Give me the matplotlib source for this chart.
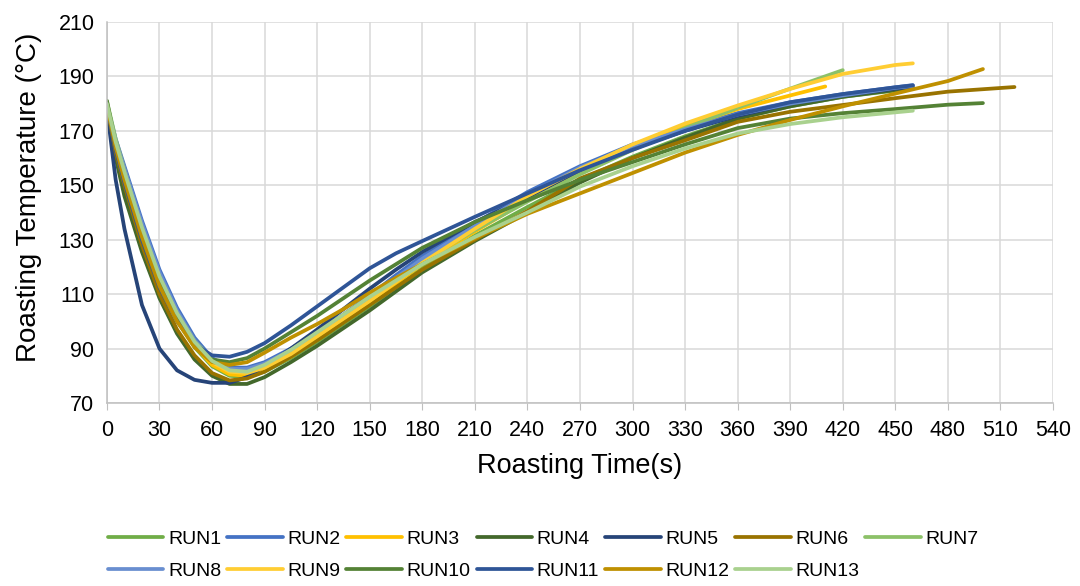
import matplotlib
matplotlib.use("Agg")
import matplotlib.pyplot as plt

plt.rcParams['font.family'] = ['Liberation Sans', 'DejaVu Sans']

# common sampling times (s); each run is cut at its own end time
time_grid = [0, 5, 10, 20, 30, 40, 50, 60, 70, 80, 90, 105, 120, 135, 150, 165,
             180, 210, 240, 270, 300, 330, 360, 390, 420, 450, 480]

run_names = ["RUN1", "RUN2", "RUN3", "RUN4", "RUN5", "RUN6", "RUN7",
             "RUN8", "RUN9", "RUN10", "RUN11", "RUN12", "RUN13"]
end_times = [460, 460, 410, 460, 460, 518, 420, 460, 460, 500, 460, 500, 460]
run_colors = ["#70AD47", "#4472C4", "#FFC000", "#43682B", "#264478", "#997300", "#8CC168",
              "#698ED0", "#FFCD33", "#548235", "#2F5597", "#BF9000", "#A9D18E"]

run1 = [180, 164, 152.5, 132, 114, 100.5, 90.5, 83.5, 80, 79.5, 81.5, 86.5, 92.5, 99, 105.5,
        112.5, 119.5, 131.5, 142, 152, 160.5, 168, 174.5, 179, 182.5, 184.8, 185.5]
run2 = [180, 167, 157, 137, 119, 105, 94, 86.5, 83, 83, 85, 90, 96, 102.5, 109.5,
        117, 124, 136, 147.5, 157, 165, 171, 176.5, 180.5, 183.5, 186, 186.8]
run3 = [180, 165, 154, 133, 115, 101.5, 91, 84, 80.5, 80, 82, 87, 93.5, 100, 107,
        114, 121, 133, 144.5, 155, 164, 171.5, 178, 183, 186.3]
run4 = [180, 160, 146, 125.5, 108.5, 95.5, 86, 80, 77, 77, 79.5, 85, 91, 97.5, 104,
        111, 118, 129.5, 140, 151, 160, 167.5, 174.5, 179, 182.5, 185, 185.8]
run5 = [178, 152, 134, 106, 90, 82, 78.5, 77.4, 77.4, 79.5, 83.5, 90, 97, 104.5, 112,
        119, 125.5, 136.5, 145.5, 155.5, 163.5, 170, 175.5, 180, 183, 185.5, 186.2]
run6 = [179, 162, 150, 128, 110, 97, 87.5, 81, 78.3, 79, 81.5, 87, 93, 99.5, 106,
        112.5, 119, 130, 140.5, 152.5, 160, 166.5, 173.3, 177, 179.5, 182, 184.4, 186.1]
run7 = [181, 167, 156, 135, 117, 103.5, 93, 86, 82.5, 82, 84, 89, 95, 101.5, 108,
        115, 122, 133.5, 144, 154, 163, 171, 178.5, 185.5, 192.3]
run8 = [179, 166, 156, 136, 118, 104, 93, 85.5, 82.5, 82.5, 84.5, 89.5, 95.5, 102, 109,
        116, 123, 135, 146.5, 156.5, 164.5, 170.5, 176, 180, 183, 185.8, 186.5]
run9 = [179, 165, 154, 133.5, 116, 102.5, 92, 85, 81.5, 81, 83, 88, 94.5, 101, 107.5,
        114.5, 121.5, 134, 146, 156, 165, 172.7, 179.3, 185.4, 190.9, 194.2, 194.8]
run10 = [181, 165, 153, 132, 114, 101, 91.5, 86, 85, 86.5, 90, 96, 102, 108.5, 115,
         121, 127, 136.5, 144.5, 152, 158.5, 165, 171, 174.5, 176.5, 178, 179.6, 180.2]
run11 = [179, 163, 151, 130, 112.5, 100, 91.5, 87.5, 87, 88.8, 92, 98.5, 105.5, 112.5, 119.5,
         125, 129.5, 138.4, 147, 155.5, 163, 170, 176, 180.5, 183.5, 186, 186.7]
run12 = [179, 164, 152, 131, 113, 100, 90.5, 85, 84, 85, 88.5, 94, 99, 104.5, 110.5,
         116, 121, 130.5, 139.5, 147, 154.5, 162, 168.5, 174, 179, 183.7, 188.3, 192.7]
run13 = [180, 166, 155, 134.5, 116.5, 103, 92.5, 85.5, 82, 81.5, 84, 89.5, 96, 102.5, 109,
         115, 121, 131, 140, 149.5, 157, 163.5, 169, 172.5, 175, 176.8, 177.4]

runs = [run1, run2, run3, run4, run5, run6, run7, run8, run9, run10, run11, run12, run13]

x_ticks = list(range(0, 541, 30))
y_ticks = list(range(70, 211, 20))

fig = plt.figure(figsize=(10.8, 5.86), dpi=100)
ax = fig.add_axes([0.099, 0.3123, 0.876, 0.6502])

lines = {}
for name, temps, t_end, color in zip(run_names, runs, end_times, run_colors):
    t = [g for g in time_grid if g < t_end] + [t_end]
    lines[name], = ax.plot(t, temps, color=color, lw=2.7, label=name,
                           solid_capstyle='round', solid_joinstyle='round')

ax.set_xlim(0, 540)
ax.set_ylim(70, 210)
ax.set_xticks(x_ticks)
ax.set_yticks(y_ticks)
ax.grid(True, color='#D9D9D9', lw=1.1)
ax.set_axisbelow(True)
for side in ['top', 'right']:
    ax.spines[side].set_visible(False)
for side in ['left', 'bottom']:
    ax.spines[side].set_color('#BFBFBF')
    ax.spines[side].set_linewidth(1.1)
ax.tick_params(axis='y', length=0, labelsize=15.5, pad=9)
ax.tick_params(axis='x', length=5, color='#BFBFBF', labelsize=15.5, pad=7)

ax.set_xlabel("Roasting Time(s)", fontsize=19.5, labelpad=9)
ax.set_ylabel("Roasting Temperature (°C)", fontsize=20)
ax.yaxis.set_label_coords(-0.069, 0.54)

# legend filled row by row like the original (7 per row)
order = ["RUN1", "RUN8", "RUN2", "RUN9", "RUN3", "RUN10", "RUN4",
         "RUN11", "RUN5", "RUN12", "RUN6", "RUN13", "RUN7"]
fig.legend([lines[n] for n in order], order,
           loc='center left', bbox_to_anchor=(0.1, 0.053), ncol=7, frameon=False,
           fontsize=14, handlelength=2.85, handletextpad=0.25, columnspacing=0.3,
           labelspacing=0.72, borderpad=0, borderaxespad=0)

fig.savefig("out.png", dpi=100)
